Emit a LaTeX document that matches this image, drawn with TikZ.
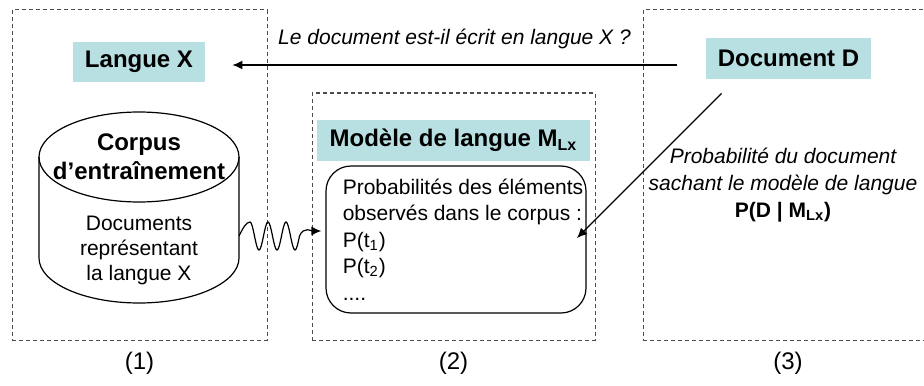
\documentclass[tikz,border=0pt]{standalone}
\usepackage{fontspec}
\setmainfont{Liberation Sans}
\usetikzlibrary{arrows.meta}
\definecolor{headfill}{RGB}{184,224,226}
\tikzset{
  zone/.style={draw=black!70, dash pattern=on 2pt off 1.5pt, line width=0.5pt},
  head/.style={fill=headfill, font=\bfseries\fontsize{12}{14.5}\selectfont, inner sep=0pt},
  link/.style={line width=0.6pt, -{Latex[length=5pt,width=4.5pt]}}
}
\begin{document}
\begin{tikzpicture}[x=0.5pt, y=-0.5pt, font=\fontsize{10.5}{13.2}\selectfont]
  \useasboundingbox (0,0) rectangle (924,385);
  % the three parts
  \node[zone, minimum width=127.5pt, minimum height=165pt] (part1) at (139.5,175) {};
  \node[zone, minimum width=141.5pt, minimum height=123.5pt] (part2) at (453.5,216.5) {};
  \node[zone, minimum width=145pt, minimum height=165pt] (part3) at (788,175) {};
  \node[font=\fontsize{12}{14}\selectfont] (num1) at ([yshift=-11.5pt]part1.south) {(1)};
  \node[font=\fontsize{12}{14}\selectfont] (num2) at ([yshift=-11.5pt]part2.south) {(2)};
  \node[font=\fontsize{12}{14}\selectfont] (num3) at ([yshift=-11.5pt]part3.south) {(3)};

  % (1) langue et corpus
  \node[head, minimum width=66pt, minimum height=20pt] (langX) at (139,62) {Langue X};
  \draw[line width=0.6pt] (139,157) ellipse [x radius=100, y radius=45];
  \draw[line width=0.6pt] (39,157) -- (39,258) arc[start angle=180, end angle=0, x radius=100, y radius=45] -- (239,157);
  \node[align=center, font=\bfseries\fontsize{12}{14.5}\selectfont] (corpus) at (139,157) {Corpus\\d’entraînement};
  \node[align=center, font=\fontsize{10.5}{12.5}\selectfont] (corpusDocs) at (139,250) {Documents\\représentant\\la langue X};
  \coordinate (corpusR) at (239,236);

  % (2) modele
  \node[head, minimum width=136.5pt, minimum height=20.5pt] (model) at (453.5,140.5) {Modèle de langue M\textsubscript{Lx}};
  \node[draw, line width=0.6pt, rounded corners=12.5pt, minimum width=130pt, minimum height=73.5pt] (probBox) at (456,239.5) {};
  \node[align=left, anchor=west, inner sep=0pt] (probText) at ([xshift=8.5pt]probBox.west) {Probabilités des éléments\\observés dans le corpus :\\P(t\textsubscript{1})\\P(t\textsubscript{2})\\....};
  \coordinate (pin) at (577,238);

  % (3) document
  \node[head, minimum width=82.5pt, minimum height=20.5pt] (docD) at (788.5,58.5) {Document D};
  \node[align=center, font=\itshape\fontsize{10.5}{13.5}\selectfont] (probLabel) at (783,185) {Probabilité du document\\sachant le modèle de langue\\\textbf{\upshape P(D | M\textsubscript{Lx})}};

  % connectors
  \draw[link] ([xshift=-14.5pt,yshift=-3.25pt]docD.west) -- ([xshift=13.5pt,yshift=-1.5pt]langX.east)
    node[midway, yshift=13pt, font=\itshape\fontsize{10.5}{13.2}\selectfont] (question) {Le document est-il écrit en langue X ?};
  \draw[link] ([xshift=8pt,yshift=-7pt]docD.south west) -- (pin);
  \draw[link] (corpusR) sin ++(11,-14) cos ++(4.5,14) sin ++(4.5,14) cos ++(4.5,-14)
    sin ++(4.5,-14) cos ++(4.5,14) sin ++(4.5,14) cos ++(4.5,-14)
    sin ++(4.5,-14) cos ++(4.5,14) sin ++(4.5,14) cos ++(4.5,-14)
    .. controls +(4,-10) and +(-9,0) .. ([xshift=-2pt,yshift=4.25pt]probBox.west);
\end{tikzpicture}
\end{document}
